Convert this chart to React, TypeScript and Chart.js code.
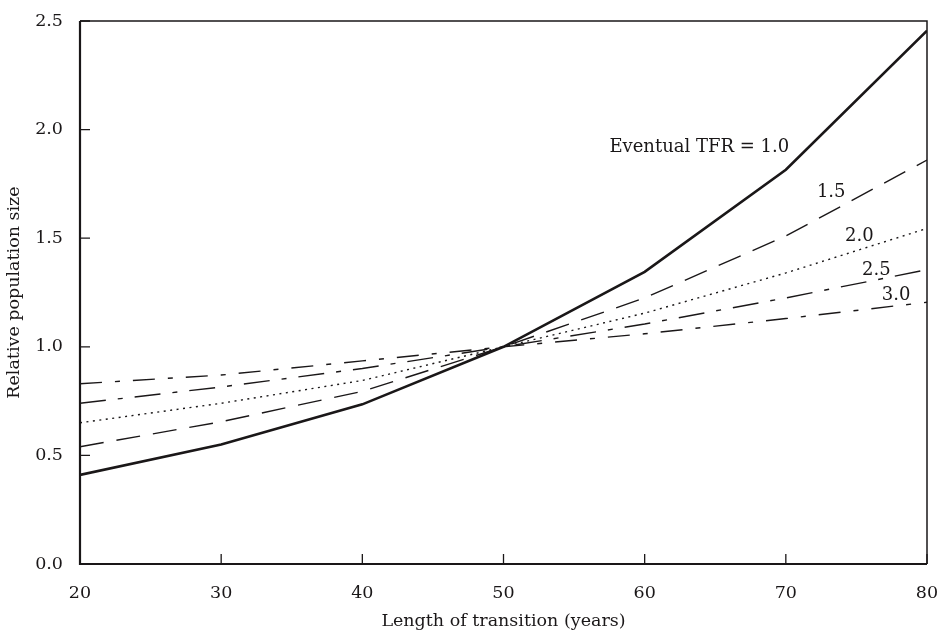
import React, { useEffect, useRef } from "react";
import { Chart, registerables } from "chart.js";

Chart.register(...registerables);

const years = [20, 30, 40, 50, 60, 70, 80];
const tfr10 = [0.41, 0.55, 0.735, 1.0, 1.345, 1.815, 2.455];
const tfr15 = [0.54, 0.655, 0.795, 1.0, 1.225, 1.51, 1.86];
const tfr20 = [0.65, 0.74, 0.845, 1.0, 1.155, 1.34, 1.545];
const tfr25 = [0.74, 0.815, 0.9, 1.0, 1.105, 1.225, 1.355];
const tfr30 = [0.83, 0.87, 0.935, 1.0, 1.06, 1.13, 1.205];

const seriesLabels = ["Eventual TFR = 1.0", "1.5", "2.0", "2.5", "3.0"];
// label anchor positions in data units (x, y)
const labelX = [57.5, 72.2, 74.2, 75.4, 76.8];
const labelY = [1.92, 1.71, 1.51, 1.35, 1.235];

const xTicks = [20, 30, 40, 50, 60, 70, 80];
const yTicks = [0, 0.5, 1.0, 1.5, 2.0, 2.5];

const INK = "#1a1718";
const FONT = "'DejaVu Serif', serif";

export default function App() {
  const ref = useRef<HTMLCanvasElement | null>(null);
  useEffect(() => {
    document.body.style.margin = "0";
    const canvas = ref.current;
    if (!canvas) return;
    const mk = (data: number[], dash: number[], width: number) => ({
      data: years.map((x, i) => ({ x, y: data[i] })),
      borderColor: INK,
      borderWidth: width,
      borderDash: dash,
      pointRadius: 0,
      fill: false,
      tension: 0,
    });
    const zeroPad = (s: any) => {
      s.paddingTop = 0;
      s.paddingBottom = 0;
      s.paddingLeft = 0;
      s.paddingRight = 0;
    };
    const framePlugin = {
      id: "frame",
      afterDraw(chart: any) {
        const { ctx, chartArea: a, scales } = chart;
        ctx.save();
        ctx.strokeStyle = INK;
        ctx.lineWidth = 1.5;
        ctx.beginPath();
        ctx.moveTo(a.left, a.top);
        ctx.lineTo(a.right, a.top);
        ctx.lineTo(a.right, a.bottom);
        ctx.stroke();
        ctx.lineWidth = 2.2;
        ctx.beginPath();
        ctx.moveTo(a.left, a.top);
        ctx.lineTo(a.left, a.bottom);
        ctx.lineTo(a.right, a.bottom);
        ctx.stroke();
        ctx.lineWidth = 1.3;
        ctx.beginPath();
        xTicks.forEach((v) => {
          const px = scales.x.getPixelForValue(v);
          ctx.moveTo(px, a.bottom);
          ctx.lineTo(px, a.bottom - 10);
        });
        yTicks.forEach((v) => {
          const py = scales.y.getPixelForValue(v);
          ctx.moveTo(a.left, py);
          ctx.lineTo(a.left + 10, py);
        });
        ctx.stroke();
        ctx.fillStyle = INK;
        ctx.font = `18px ${FONT}`;
        ctx.textAlign = "left";
        ctx.textBaseline = "middle";
        seriesLabels.forEach((t, i) => {
          ctx.fillText(
            t,
            scales.x.getPixelForValue(labelX[i]),
            scales.y.getPixelForValue(labelY[i])
          );
        });
        ctx.restore();
      },
    };
    const chart = new Chart(canvas, {
      type: "line",
      data: {
        datasets: [
          mk(tfr10, [], 2.6),
          mk(tfr15, [24, 13], 1.4),
          mk(tfr20, [2, 4.5], 1.4),
          mk(tfr25, [26, 12, 5, 12], 1.4),
          mk(tfr30, [22, 13, 5, 13], 1.4),
        ],
      },
      options: {
        animation: false,
        responsive: false,
        events: [],
        layout: { padding: { top: 21, right: 14, left: 0, bottom: 0 } },
        plugins: { legend: { display: false }, tooltip: { enabled: false } },
        scales: {
          x: {
            type: "linear",
            min: 20,
            max: 80,
            afterFit: (s: any) => {
              s.height = 68;
              zeroPad(s);
            },
            afterBuildTicks: (s: any) => {
              s.ticks = xTicks.map((v) => ({ value: v }));
            },
            grid: { display: false, drawTicks: false },
            border: { display: false },
            ticks: {
              color: INK,
              font: { family: FONT, size: 17.5 },
              padding: 19,
              maxRotation: 0,
            },
            title: {
              display: true,
              text: "Length of transition (years)",
              color: INK,
              font: { family: FONT, size: 17.5 },
              padding: { top: 0, bottom: 0 },
            },
          },
          y: {
            type: "linear",
            min: 0,
            max: 2.5,
            afterFit: (s: any) => {
              s.width = 80;
              zeroPad(s);
            },
            afterBuildTicks: (s: any) => {
              s.ticks = yTicks.map((v) => ({ value: v }));
            },
            grid: { display: false, drawTicks: false },
            border: { display: false },
            ticks: {
              color: INK,
              font: { family: FONT, size: 17.5 },
              padding: 17,
              callback: (v: any) => Number(v).toFixed(1),
            },
            title: {
              display: true,
              text: "Relative population size",
              color: INK,
              font: { family: FONT, size: 17.5 },
              padding: { top: 4, bottom: 0 },
            },
          },
        },
      },
      plugins: [framePlugin],
    } as any);
    return () => chart.destroy();
  }, []);
  return (
    <div style={{ width: 941, height: 632 }}>
      <canvas ref={ref} width={941} height={632} style={{ width: 941, height: 632 }} />
    </div>
  );
}
